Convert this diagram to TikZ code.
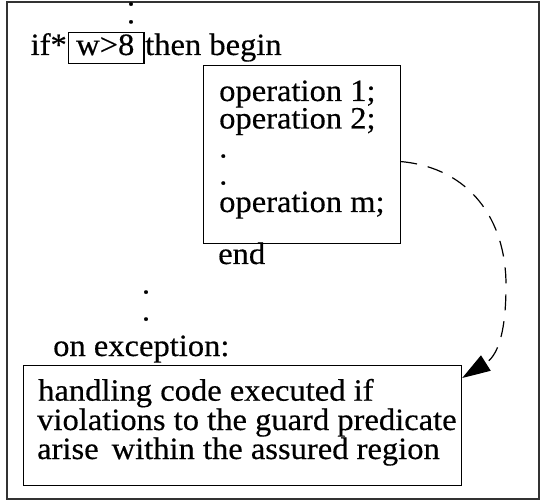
\documentclass[tikz,border=0pt]{standalone}
\usepackage{fontspec}
\setmainfont{Liberation Serif}[FakeStretch=1.05,FakeBold=0.4]
\usetikzlibrary{arrows.meta}
\newcommand\bigfs{\fontsize{31}{27.8}\selectfont}
\begin{document}
\begin{tikzpicture}[x=1pt,y=-1pt,
  txt/.style={anchor=base west, inner sep=0pt, font=\bigfs},
  txtr/.style={anchor=base east, inner sep=0pt, font=\bigfs},
  dotx/.style={anchor=base, inner sep=0pt, font=\bigfs},
  box/.style={draw=black, line width=1.2pt, inner sep=0pt, anchor=north west},
  frame/.style={draw=black!80, line width=1.8pt},
  dasharrow/.style={draw=black, line width=1.2pt, dash pattern=on 16pt off 11pt,
    -{Triangle[length=28pt,width=18pt]}}]
\useasboundingbox (0,0) rectangle (543,502);
\draw[frame] (7,2) rectangle (539,499);
% top dots
\node[dotx] (d1) at (131,5.5) {.};
\node[dotx] (d2) at (131,23.3) {.};
% if line
\node[box, minimum width=75.6pt, minimum height=31pt] (cond) at (67.7,31.7) {};
\node[txtr] (if) at (67,55) {if*};
\node[txt] (wtxt) at (76,55) {w>8};
\node[txt] (then) at (145,55) {then begin};
% operations box
\node[box, minimum width=197pt, minimum height=178pt] (ops) at (203,65) {};
\node[txt] (op1) at (219,101) {operation 1;};
\node[txt] (op2) at (219,128.5) {operation 2;};
\node[txt] (opd1) at (219,157.5) {.};
\node[txt] (opd2) at (219,184.5) {.};
\node[txt] (opm) at (219,212) {operation m;};
\node[txt] (end) at (218,264) {end};
% middle dots
\node[dotx] (d3) at (146,293.5) {.};
\node[dotx] (d4) at (146,320.5) {.};
\node[txt] (onexc) at (53,356) {on exception:};
% handling box
\node[box, minimum width=438.3pt, minimum height=120pt] (hand) at (22.7,364.5) {};
\node[txt] (h1) at (38,400.7) {handling code executed if};
\node[txt] (h2) at (37,430) {violations to the guard predicate};
\node[txt] (h3) at (37,459) {arise\hspace{0.42em}within the assured region};
% dashed arrow
\draw[dasharrow] ([yshift=-7pt]ops.east) .. controls (470,168) and (506,220) .. (506,285)
  .. controls (506,335) and (497,356) .. ([yshift=-13.5pt]hand.north east);
\end{tikzpicture}
\end{document}
